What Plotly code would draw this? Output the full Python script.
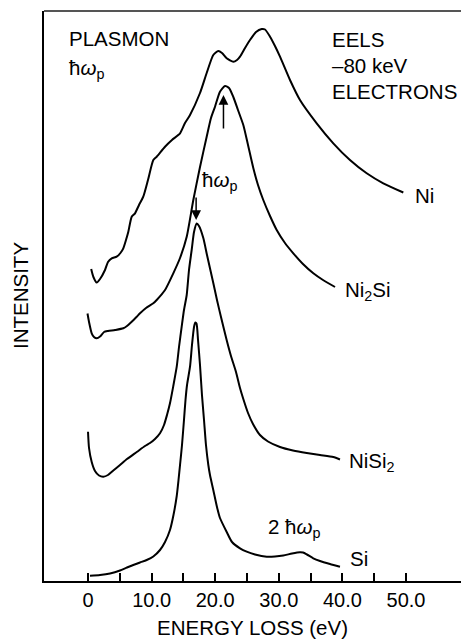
import plotly.graph_objects as go

# ---------------- data (energy loss in eV, intensity in arbitrary offset units) -------------
ni_energy = [0.50, 0.85, 1.37, 1.89, 2.67, 3.14, 3.73, 4.51, 5.10, 5.55, 5.97, 6.34, 6.87, 7.39,
             8.02, 8.69, 9.43, 10.27, 10.80, 12.11, 13.20, 14.47, 15.25, 16.04, 17.61, 18.66,
             19.70, 20.49, 21.07, 21.80, 22.85, 23.43, 23.90, 24.69, 25.47, 26.42, 27.31, 27.83,
             28.62, 29.40, 30.19, 31.76, 33.33, 35.96, 38.57, 41.19, 43.82, 46.43, 49.58]
ni_intensity = [312, 304, 298.5, 302, 311, 319, 322.7, 324.3, 328, 332.7, 341, 349.3, 364.3, 367.7,
                376, 384.3, 401, 421, 424.3, 434.3, 441, 447.7, 458, 466, 488, 508,
                526, 530, 528, 522.7, 519.3, 521, 524.3, 533, 541, 549, 552, 551.5,
                544.3, 535, 524.3, 501, 481, 457.7, 437.7, 421, 407.7, 397.7, 388.5]

ni2si_energy = [-0.08, 0.16, 0.58, 0.94, 1.37, 1.89, 2.52, 3.14, 4.25, 5.55, 6.13, 6.87, 7.66,
                8.18, 9.12, 10.27, 10.80, 12.11, 13.41, 14.47, 15.52, 16.56, 17.61, 18.66, 19.34,
                19.97, 20.75, 21.54, 22.17, 22.85, 23.58, 24.42, 25.16, 25.99, 26.73, 27.56,
                28.62, 29.67, 30.97, 32.28, 33.80, 35.43, 36.95, 38.84]
ni2si_intensity = [267.5, 259, 247.7, 244, 242.7, 244.5, 249, 250, 251, 252.7, 255, 259.3, 264.3,
                   267.7, 273, 277.7, 281, 291, 307.7, 323, 344.3, 381, 414, 444.3, 463,
                   474.3, 489.3, 495, 493, 484, 471, 456, 436, 413, 396, 381,
                   365, 351, 338, 327.7, 317, 307.7, 301, 294]

nisi2_energy = [0.00, 0.16, 0.58, 1.10, 1.73, 2.41, 3.14, 3.98, 5.03, 6.13, 7.66, 8.96, 9.75,
                10.53, 11.32, 11.95, 12.42, 12.89, 13.44, 13.95, 14.31, 14.73, 15.09, 15.52,
                15.88, 16.30, 16.67, 17.09, 17.45, 18.13, 18.71, 19.70, 20.28, 20.91, 21.80,
                22.48, 23.27, 23.90, 24.42, 25.16, 25.94, 27.04, 28.30, 30.19, 32.23, 34.39,
                36.48, 38.57, 39.62]
nisi2_intensity = [149.3, 133, 119, 110, 105.5, 104.3, 106, 110.5, 116, 122, 129, 135, 138,
                   142, 147.7, 156, 166, 177.7, 196, 214.3, 234, 254.3, 271, 286,
                   311, 331, 349, 357.5, 355, 343, 326, 298, 281, 264, 241,
                   225, 209, 193, 182, 168, 157, 146, 139.5, 134, 130.5, 128,
                   126, 124, 121.5]

si_energy = [0.31, 1.89, 3.46, 5.03, 6.13, 7.12, 8.18, 9.23, 10.27, 11.32, 12.11, 12.89, 13.44,
             13.95, 14.23, 14.47, 14.78, 15.09, 15.33, 15.57, 16.04, 16.35, 16.67, 16.87, 17.06,
             17.30, 17.61, 17.92, 18.24, 18.55, 18.92, 19.18, 19.70, 20.28, 20.75, 21.81, 22.64,
             23.90, 24.95, 26.26, 28.10, 29.40, 30.71, 32.08, 33.33, 33.81, 34.43, 35.42, 36.48,
             38.05, 39.62]
si_intensity = [5.3, 6, 7.5, 10.5, 13.5, 16, 18.5, 21, 24.5, 31, 39, 51, 66,
                85, 101, 116, 136, 161, 181, 196, 214.3, 236, 254, 258.5, 257.5,
                241, 216, 186, 161, 136, 116, 106, 91, 74, 63, 49, 39,
                32.7, 29.3, 26.5, 24.3, 24.5, 25.5, 27.5, 28.8, 28.5, 26.5, 22.7, 20,
                17, 14.3]

x_tick_values = [0, 5, 10, 15, 20, 25, 30, 35, 40, 45, 50]
x_tick_labels = ["0", "", "10.0", "", "20.0", "", "30.0", "", "40.0", "", "50.0"]

# plasmon arrows: energy, tail intensity, head intensity
arrow_energy = [21.3, 17.0]
arrow_tail = [451, 385]
arrow_head = [486, 361]

FONT = "Liberation Sans, Arial, Helvetica, sans-serif"
HW = "ħ<i>ω</i><sub>p</sub>"

fig = go.Figure()
for xs, ys in [(ni_energy, ni_intensity), (ni2si_energy, ni2si_intensity),
               (nisi2_energy, nisi2_intensity), (si_energy, si_intensity)]:
    fig.add_trace(go.Scatter(x=xs, y=ys, mode="lines",
                             line=dict(color="black", width=2, shape="spline", smoothing=0.6),
                             showlegend=False, hoverinfo="skip"))

annotations = []
for e, t, h in zip(arrow_energy, arrow_tail, arrow_head):
    annotations.append(dict(x=e, y=h, ax=e, ay=t, xref="x", yref="y", axref="x", ayref="y",
                            text="", showarrow=True, arrowhead=2, arrowsize=1.3,
                            arrowwidth=1.5, arrowcolor="black"))

def label(text, x, y, anchor="left"):
    annotations.append(dict(x=x, y=y, xref="x", yref="y", text=text, showarrow=False,
                            xanchor=anchor, yanchor="middle",
                            font=dict(family=FONT, size=20.5, color="black")))

label("PLASMON", -3.3, 543)
label(HW, -3.3, 512)
label("EELS", 38.0, 542)
label("\u201380 keV", 38.0, 516)
label("ELECTRONS", 38.0, 490)
label("Ni", 51.1, 386)
label(HW, 17.6, 400)
label("Ni<sub>2</sub>Si", 40.1, 290)
label("NiSi<sub>2</sub>", 40.7, 119)
label("2 " + HW, 28.0, 53)
label("Si", 40.9, 23)

annotations.append(dict(x=0.5, y=0, xref="paper", yref="paper", yshift=-46,
                        text="ENERGY LOSS (eV)", showarrow=False, xanchor="center",
                        yanchor="middle", font=dict(family=FONT, size=20.5, color="black")))
annotations.append(dict(x=0, y=0.5, xref="paper", yref="paper", xshift=-24,
                        text="INTENSITY", showarrow=False, textangle=-90, xanchor="center",
                        yanchor="middle", font=dict(family=FONT, size=20.5, color="black")))

fig.update_layout(
    width=461, height=640,
    margin=dict(l=44, r=0, t=11, b=59, pad=0),
    paper_bgcolor="white", plot_bgcolor="white",
    font=dict(family=FONT, size=20, color="black"),
    annotations=annotations,
    shapes=[dict(type="line", xref="paper", yref="paper", x0=0, x1=1, y0=1, y1=1,
                 line=dict(color="#555555", width=2))],
    xaxis=dict(range=[-6.92, 58.65], showgrid=False, zeroline=False,
               showline=True, linecolor="black", linewidth=2,
               tickmode="array", tickvals=x_tick_values, ticktext=x_tick_labels,
               ticks="inside", ticklen=8, tickwidth=1.5, tickcolor="black",
               tickfont=dict(family=FONT, size=20, color="black")),
    yaxis=dict(range=[0, 570], showgrid=False, zeroline=False, showticklabels=False,
               showline=True, linecolor="black", linewidth=2, ticks=""),
)

fig.write_html("out.html", config={"displayModeBar": False},
               post_script="document.body.style.margin='0';document.body.style.overflow='hidden';")
